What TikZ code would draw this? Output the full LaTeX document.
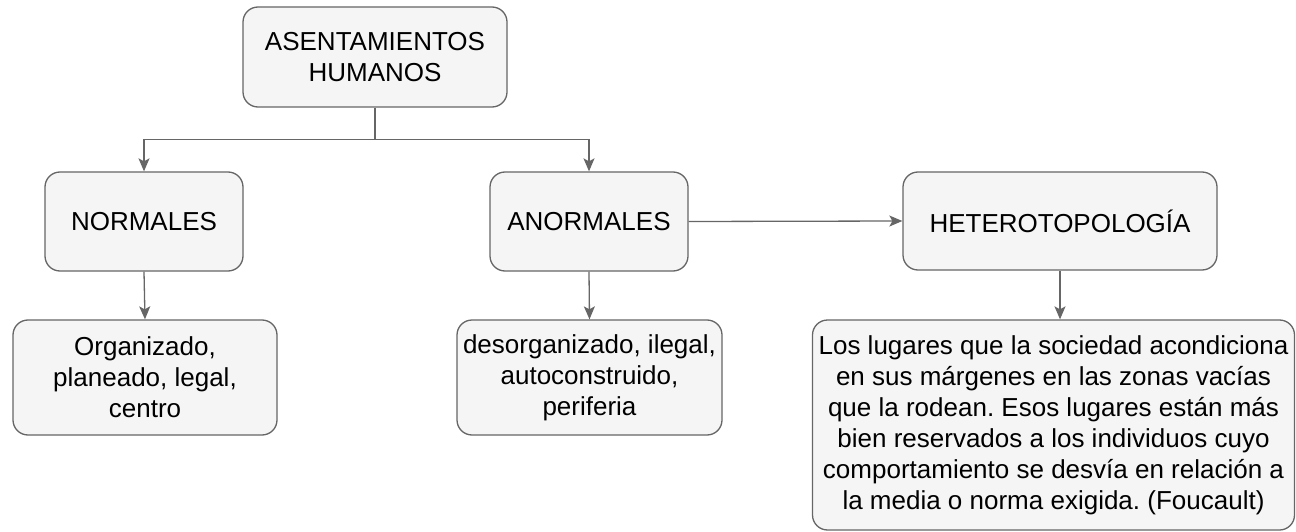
\documentclass[tikz,border=0pt]{standalone}
\usepackage{fontspec}
\setmainfont{Liberation Sans}
\usetikzlibrary{arrows.meta,calc}
\definecolor{boxfill}{HTML}{F5F5F5}
\definecolor{boxline}{HTML}{666666}
\frenchspacing
\begin{document}
\begin{tikzpicture}[x=1pt,y=-1pt,
    concept/.style={draw=boxline, fill=boxfill, line width=1.3pt, rounded corners=15pt,
        align=center, inner sep=0pt, font=\fontsize{26}{31}\selectfont},
    link/.style={draw=boxline, line width=1.3pt, -{Stealth[length=13pt,width=11pt,inset=3pt]}}]
    \useasboundingbox (0,0) rectangle (1296,532);

    % Main concept
    \node[concept, minimum width=264pt, minimum height=100pt] (asent) at (375,57) {ASENTAMIENTOS\\HUMANOS};

    % Second level
    \node[concept, minimum width=198pt, minimum height=99pt] (norm) at (144,221.5) {NORMALES};
    \node[concept, minimum width=198pt, minimum height=99pt] (anorm) at (589,221.5) {ANORMALES};
    \node[concept, minimum width=314pt, minimum height=98pt] (hetero) at (1060,221) {HETEROTOPOLOGÍA};

    % Descriptions
    \node[concept, minimum width=264pt, minimum height=115pt] (normdesc) at (145,377.5) {Organizado,\\planeado, legal,\\centro};
    \node[concept, minimum width=265pt, minimum height=115pt] (anormdesc) at (589.5,377.5) {desorganizado, ilegal,\\autoconstruido,\\periferia};
    \node[concept, minimum width=482pt, minimum height=210pt] (heterodesc) at (1053.5,425)
        {Los lugares que la sociedad acondiciona\\en sus márgenes en las zonas vacías\\que la rodean. Esos lugares están más\\bien reservados a los individuos cuyo\\comportamiento se desvía en relación a\\la media o norma exigida. (Foucault)};

    % Connectors
    \coordinate (fork) at ($(asent.south)+(0,32)$);
    \draw[boxline, line width=1.3pt] (asent.south) -- (fork);
    \draw[link] (fork) -| (norm.north);
    \draw[link] (fork) -| (anorm.north);
    \draw[link] (anorm.east) -- (hetero.west);
    \draw[link] (norm.south) -- (normdesc.north);
    \draw[link] (anorm.south) -- (anormdesc.north);
    \draw[link] (hetero.south) -- (heterodesc.north -| hetero.south);
\end{tikzpicture}
\end{document}
